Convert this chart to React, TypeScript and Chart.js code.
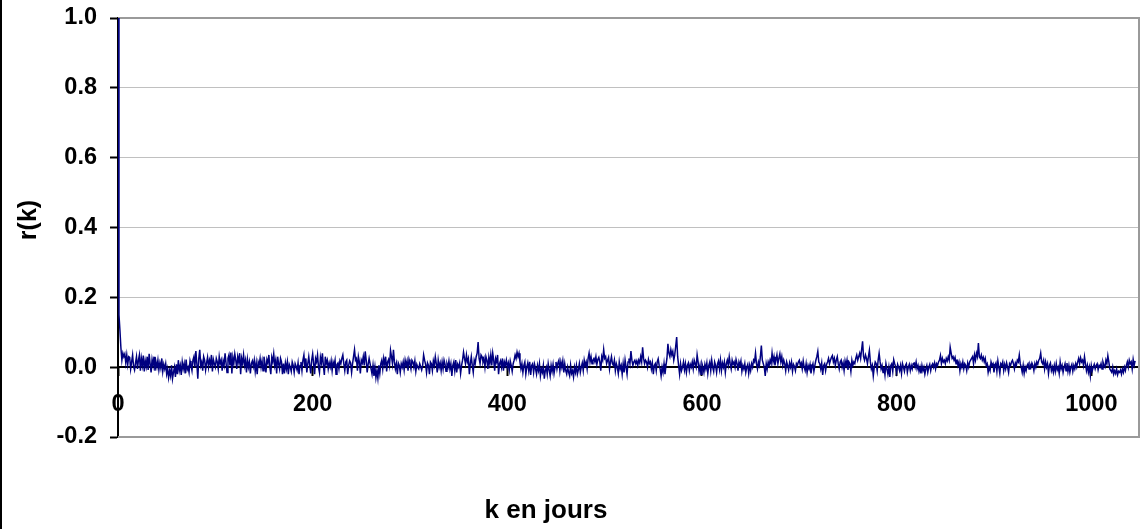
import { useEffect, useRef } from "react";
import { Chart, registerables } from "chart.js";

Chart.register(...registerables);

// Autocorrelation r(k), in thousandths, for lags k = 0, 1, 2, ...
const acfMilli: number[] = [
  1000, 150, 105, 55, 20, 40, 30, 38, 12, 35,
  8, 30, 28, -5, 15, 35, 2, -8, 12, 30,
  -5, 20, 35, -10, 25, 5, 33, -12, 18, 2,
  30, -8, 38, 10, -15, 22, 5, 30, -10, 15,
  0, 20, -8, 12, -3, 25, -12, 8, -5, 10,
  -20, -5, -30, -10, -25, 5, -33, -15, 0, -28,
  8, -20, 20, -10, 5, -22, 15, -5, 10, -18,
  22, -8, 0, -15, 18, 5, -10, 20, 30, 0,
  46, 10, -33, 25, 50, 5, 15, -10, 30, 20,
  -8, 12, 28, 0, 20, 8, 35, -12, 22, 10,
  0, 25, 15, -5, 30, 10, 20, -10, 18, 5,
  40, 12, -15, 25, 35, 5, 42, -18, 28, 10,
  38, 20, -5, 30, 15, 40, -20, 25, 10, 35,
  5, 20, -15, 22, 0, 15, -18, 10, 18, 2,
  20, -12, 12, -20, 15, 5, 25, 0, 18, -10,
  30, 10, -15, 22, 12, 35, 0, -20, 28, 15,
  38, 5, 20, -18, 30, 10, -5, 25, 15, -20,
  10, -18, 12, -5, 15, -20, 8, 0, -12, 15,
  5, -15, 10, 2, -8, 12, -20, 5, 15, -10,
  20, 35, 0, 25, -15, 10, 30, 5, -18, 20,
  38, 10, -20, 25, 15, 35, 0, -15, 28, 12,
  40, 5, -22, 30, 10, 20, -5, 12, 0, 18,
  -10, 15, 5, 20, -20, 8, 12, -5, 18, 10,
  25, 35, 10, -10, 15, 20, -20, 5, 18, 12,
  -15, 10, 30, 50, 20, 25, -10, 30, 15, -18,
  20, 12, 30, 5, 45, 20, -15, 8, 25, 10,
  -5, -20, 5, -25, 0, -30, -10, -32, 5, -18,
  10, 20, -5, 25, 8, 30, -12, 15, 22, 5,
  48, 30, 10, 50, 15, -5, 10, -20, 12, 5,
  -15, 10, 0, 15, -8, 20, 5, 18, -10, 22,
  10, -5, 20, 15, 0, 18, -12, 8, 0, -5,
  10, 2, -8, 5, 35, 20, 8, -15, 12, 5,
  -20, 15, 10, -10, 18, 5, 30, 10, -15, 20,
  0, 12, -10, 15, -5, 20, 8, -12, 10, 0,
  18, -5, 10, -25, 5, 15, -10, 20, -15, 8,
  0, 12, -18, 5, 20, 43, 25, 10, 35, 15,
  25, -20, 10, 30, 5, -15, 20, 10, 30, 40,
  72, 25, 10, 35, 30, 15, 25, 0, 30, 20,
  -5, 28, 10, 35, 5, 40, 20, -10, 25, 15,
  35, -20, 10, 18, 0, 25, -10, 15, 5, 20,
  0, 12, -8, 18, 5, -12, 10, 20, 35, 25,
  43, 30, 40, 15, -5, 10, -15, 5, 15, -20,
  0, 12, -10, 15, -22, 5, 10, -15, 8, -5,
  -20, 5, -10, 10, -25, -5, -15, 5, -33, -10,
  0, -20, 10, -8, -25, 5, -12, 8, -18, 0,
  15, -5, 12, 20, -10, 15, 0, 18, -15, 10,
  -10, -20, 0, -15, -25, 5, -18, -10, -28, 0,
  -15, 5, -20, -8, 10, -15, 0, 12, -10, 20,
  5, 15, -5, 25, 40, 15, 30, 10, 20, 25,
  15, 30, 8, 22, 28, 15, -10, 30, 20, 50,
  25, 30, 10, 20, 28, -5, 15, 30, 10, 5,
  20, -10, 10, 0, -18, 15, -5, 5, -20, 10,
  -15, 20, 0, -20, 15, 25, 10, 46, 20, 5,
  15, 20, 10, 18, 5, 20, 12, 30, 15, 57,
  25, 10, 20, 15, 0, 22, 10, 15, -5, 12,
  -20, 5, 10, -10, 15, 24, 5, -5, -25, 0,
  -15, 10, -20, 5, 25, 67, 40, 30, 50, 35,
  45, 20, 35, 60, 86, 30, 5, -20, 10, -10,
  0, 15, -8, 10, -15, 5, 12, -10, 8, 0,
  15, -5, 20, 10, 0, 35, 15, -12, 5, -20,
  10, 0, -15, 8, -5, 12, -18, 5, 15, -10,
  20, 0, -12, 15, 5, -15, 10, 18, -5, 20,
  -10, 12, 0, 15, -15, 10, 20, 5, 30, 10,
  -5, 20, 8, 15, 0, 22, 10, -10, 15, 5,
  18, -12, 5, -5, 10, -15, 0, 8, -18, 5,
  -10, 10, 0, 20, 15, 40, 10, -5, 15, 5,
  30, 62, 20, 10, 0, -25, 10, -5, 15, 5,
  20, 10, 40, 15, 30, 5, 20, 35, 10, 25,
  38, 15, 30, 5, 20, 10, -10, 15, 5, -8,
  12, 0, 15, -12, 8, 2, -10, 10, 5, 15,
  20, 5, 12, -5, 18, 0, -10, 10, -15, 5,
  -5, 8, -18, 0, 10, -12, 5, 20, 30, 45,
  15, 10, -5, 12, -22, 5, 10, -10, 8, 15,
  25, 10, 20, 28, 33, 15, 25, 5, 20, 30,
  10, -5, 15, 20, 0, 12, -10, 18, 5, 20,
  -8, 15, 10, -12, 20, 5, 15, 10, 25, 35,
  20, 30, 40, 25, 50, 74, 30, 20, 35, 25,
  10, 30, 48, 15, -5, 5, -25, 0, 15, 10,
  -10, 20, 40, 15, -5, 5, -15, 0, -22, 10,
  -5, -20, 0, -28, 5, 10, -12, 21, 10, 0,
  -15, 8, 0, -10, 5, -18, 10, 0, -12, 5,
  10, -15, 0, 8, -10, 5, -5, 10, 12, 0,
  15, -5, 5, -12, 0, -18, 5, -10, 0, -20,
  -5, 5, -15, 0, 8, -10, 5, 10, 0, 12,
  -5, 10, 5, 15, 20, 33, 10, 25, 15, 20,
  10, 25, 18, 30, 20, 57, 40, 25, 30, 20,
  28, 10, 22, 5, 15, -10, 10, 0, 15, -5,
  10, 5, -10, 12, 0, 15, 20, 25, 30, 10,
  35, 20, 40, 30, 69, 30, 25, 35, 20, 28,
  15, 25, 5, 10, -15, 0, -10, 15, 5, 10,
  -15, 5, 12, -12, 18, 0, -18, 10, 5, 15,
  -10, 8, -5, 12, 0, -15, 10, 5, 15, 20,
  10, -5, 12, 5, 20, 15, 35, 10, 0, -15,
  5, -18, 0, -10, 5, 10, -5, 8, 0, 12,
  5, -10, 10, 0, 15, 8, 20, 25, 40, 15,
  10, 20, -5, 15, 0, 10, -18, 5, 12, -10,
  0, -15, 5, -12, 10, -8, 0, -18, 15, -5,
  5, -15, 0, 10, -10, 12, -12, 5, -15, 0,
  8, -12, 5, -5, 10, 0, 15, 25, 10, 27,
  15, 20, 5, 30, 10, -10, 5, -15, 0, -25,
  5, -10, 0, 8, -5, 5, 10, -8, 5, 0,
  10, -5, 15, 5, 0, 20, 10, 33, 15, -5,
  -10, -15, 0, -20, -10, -18, -5, -22, -12, -15,
  -8, -20, -5, -15, 0, -10, 5, 15, 0, 20,
  10, 15, -5, 22, 5, 18,
];

const rValues: number[] = acfMilli.map((v) => v / 1000);
const lags: number[] = rValues.map((_, i) => i);

const xMin = 0;
const xMax = 1049;
const xTickStep = 200;
const yMin = -0.2;
const yMax = 1.0;
const yTickStep = 0.2;
const xTitle = "k en jours";
const yTitle = "r(k)";

const FONT = "'Liberation Sans', Arial, Helvetica, sans-serif";

export default function App() {
  const canvasRef = useRef<HTMLCanvasElement | null>(null);

  useEffect(() => {
    document.body.style.margin = "0";
    const canvas = canvasRef.current;
    if (!canvas) return;

    const framePlugin = {
      id: "excelFrame",
      beforeDatasetsDraw(chart: any) {
        const { ctx, chartArea: a } = chart;
        ctx.save();
        ctx.strokeStyle = "#9a9a9a";
        ctx.lineWidth = 2;
        ctx.beginPath();
        ctx.moveTo(a.left, a.top);
        ctx.lineTo(a.right, a.top);
        ctx.lineTo(a.right, a.bottom);
        ctx.lineTo(a.left, a.bottom);
        ctx.stroke();
        ctx.restore();
      },
      afterDraw(chart: any) {
        const { ctx } = chart;
        ctx.save();
        ctx.fillStyle = "#000";
        ctx.fillRect(0, 0, 2, chart.height);
        ctx.font = `bold 26px ${FONT}`;
        ctx.textAlign = "center";
        ctx.textBaseline = "alphabetic";
        ctx.fillText(xTitle, 546, 518);
        ctx.translate(29, 220);
        ctx.rotate(-Math.PI / 2);
        ctx.textBaseline = "middle";
        ctx.font = `bold 25px ${FONT}`;
        ctx.fillText(yTitle, 0, 0);
        ctx.restore();
      },
    };

    const tickFont = { family: FONT, size: 23.5, weight: "bold" as const };

    const chart = new Chart(canvas, {
      type: "line",
      data: {
        datasets: [
          {
            data: lags.map((k, i) => ({ x: k, y: rValues[i] })),
            borderColor: "#000080",
            borderWidth: 1.5,
            pointRadius: 0,
            tension: 0,
            fill: false,
          },
        ],
      },
      options: {
        animation: false,
        responsive: false,
        maintainAspectRatio: false,
        layout: { padding: { left: 0, top: 18, right: 2, bottom: 92 } },
        plugins: {
          legend: { display: false },
          tooltip: { enabled: false },
          title: { display: false },
        },
        scales: {
          x: {
            type: "linear",
            min: xMin,
            max: xMax,
            position: { y: 0 } as any,
            offset: false,
            grid: {
              drawOnChartArea: false,
              drawTicks: true,
              tickLength: 8,
              tickColor: "#000",
              tickWidth: 2,
            },
            border: { display: true, color: "#000", width: 2 },
            ticks: {
              stepSize: xTickStep,
              includeBounds: false,
              autoSkip: false,
              maxRotation: 0,
              color: "#000",
              font: tickFont,
              padding: 15,
              callback: (v: any) => String(Math.round(Number(v))),
            },
            afterFit: (s: any) => {
              s.height = 0;
              s.paddingLeft = 0;
              s.paddingRight = 0;
            },
          },
          y: {
            type: "linear",
            min: yMin,
            max: yMax,
            position: "left",
            grid: {
              color: "#c0c0c0",
              lineWidth: 1,
              drawTicks: true,
              tickLength: 8,
              tickColor: "#000",
              tickWidth: 2,
            },
            border: { display: true, color: "#000", width: 2 },
            ticks: {
              stepSize: yTickStep,
              color: "#000",
              font: tickFont,
              padding: 13,
              callback: (v: any) => {
                const n = Number(v);
                return (Math.abs(n) < 1e-9 ? 0 : n).toFixed(1);
              },
            },
            afterFit: (s: any) => {
              s.width = 118;
              s.paddingTop = 0;
              s.paddingBottom = 0;
            },
          },
        },
      },
      plugins: [framePlugin],
    } as any);

    return () => chart.destroy();
  }, []);

  return (
    <div style={{ width: 1141, height: 529 }}>
      <canvas ref={canvasRef} width={1141} height={529} style={{ display: "block" }} />
    </div>
  );
}
